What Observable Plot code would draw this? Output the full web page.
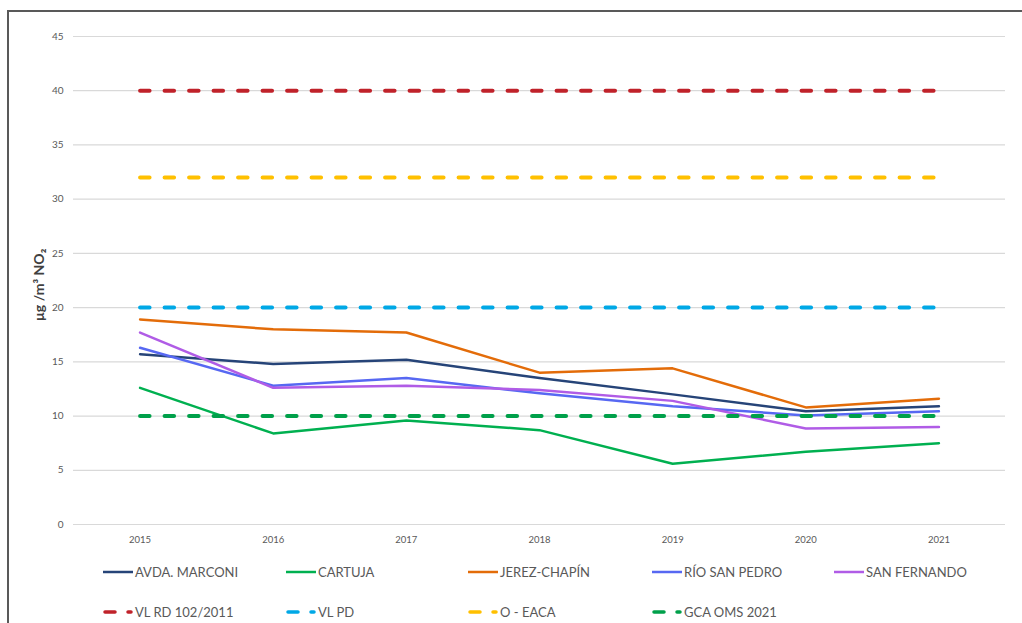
<!DOCTYPE html>
<html>
<head>
<meta charset="utf-8">
<script src="https://cdn.jsdelivr.net/npm/d3@7"></script>
<script src="https://cdn.jsdelivr.net/npm/@observablehq/plot@0.6"></script>
<style>
  html, body { margin: 0; padding: 0; background: #fff; }
  #wrap { position: relative; width: 1022px; height: 623px; overflow: hidden; font-family: Lato, "Open Sans", sans-serif; }
  #frame { position: absolute; left: 7px; top: 10px; width: 1030px; height: 640px; border-left: 2px solid #595959; border-top: 2px solid #595959; box-sizing: border-box; pointer-events: none; }
  #chart { position: absolute; left: 0; top: 0; }
  #ylab { position: absolute; left: 38px; top: 285px; transform: translate(-50%, -50%) rotate(-90deg); font-weight: bold; font-size: 14px; color: #404040; white-space: nowrap; }
  .leg { position: absolute; display: flex; align-items: center; font-size: 13px; color: #595959; white-space: nowrap; }
  .leg svg { display: block; margin-right: 2px; }
</style>
</head>
<body>
<div id="wrap">
  <div id="chart"></div>
  <div id="ylab"></div>
  <div id="frame"></div>
</div>
<script>
const years = [2015, 2016, 2017, 2018, 2019, 2020, 2021];
const yTicks = [0, 5, 10, 15, 20, 25, 30, 35, 40, 45];

const stations = ["AVDA. MARCONI", "CARTUJA", "JEREZ-CHAPÍN", "RÍO SAN PEDRO", "SAN FERNANDO"];
const stationColors = ["#264478", "#00b050", "#e36c09", "#5768f2", "#b05ce6"];
const avdaMarconi  = [15.7, 14.8, 15.2, 13.5, 12.0, 10.45, 10.9];
const cartuja      = [12.6, 8.4, 9.6, 8.7, 5.6, 6.7, 7.5];
const jerezChapin  = [18.9, 18.0, 17.7, 14.0, 14.4, 10.8, 11.6];
const rioSanPedro  = [16.3, 12.8, 13.5, 12.1, 10.9, 10.05, 10.45];
const sanFernando  = [17.7, 12.6, 12.8, 12.4, 11.4, 8.85, 9.0];
const stationValues = [avdaMarconi, cartuja, jerezChapin, rioSanPedro, sanFernando];

const limits = ["VL RD 102/2011", "VL PD", "O - EACA", "GCA OMS 2021"];
const limitValues = [40, 20, 32, 10];
const limitColors = ["#c0222a", "#00a8e6", "#ffc000", "#00a04a"];

const yLabel = "µg /m³ NO₂";
document.getElementById("ylab").textContent = yLabel;

const seriesData = stations.flatMap((s, i) => years.map((yr, j) => ({station: s, year: yr, value: stationValues[i][j]})));
const limitData = limits.flatMap((l, i) => years.map(yr => ({limit: l, year: yr, value: limitValues[i]})));

const dash = "9.5,15";

const plot = Plot.plot({
  width: 1022,
  height: 555,
  marginTop: 36,
  marginBottom: 31,
  marginLeft: 73,
  marginRight: 17,
  style: {fontFamily: "Lato, 'Open Sans', sans-serif", background: "transparent"},
  x: {domain: [2014.5, 2021.5], axis: null},
  y: {domain: [0, 45], axis: null},
  color: {domain: [...stations, ...limits], range: [...stationColors, ...limitColors]},
  marks: [
    Plot.ruleY(yTicks, {stroke: "#d9d9d9", strokeWidth: 1.2}),
    Plot.axisY(yTicks, {tickSize: 0, tickPadding: 10, fontSize: 10, fill: "#595959", label: null, tickFormat: d => d}),
    Plot.axisX(years, {tickSize: 0, tickPadding: 12, fontSize: 9.5, fill: "#595959", label: null, tickFormat: d => String(d)}),
    Plot.line(seriesData, {x: "year", y: "value", z: "station", stroke: "station", strokeWidth: 2.5}),
    Plot.line(limitData, {x: "year", y: "value", z: "limit", stroke: "limit", strokeWidth: 4, strokeDasharray: dash, strokeLinecap: "round"})
  ]
});
document.getElementById("chart").appendChild(plot);

const wrap = document.getElementById("wrap");
function addLegend(label, color, dashed, x, y) {
  const d = document.createElement("div");
  d.className = "leg";
  d.style.left = x + "px";
  d.style.top = (y - 10) + "px";
  d.style.height = "20px";
  const ns = "http://www.w3.org/2000/svg";
  const svg = document.createElementNS(ns, "svg");
  svg.setAttribute("width", 30);
  svg.setAttribute("height", 8);
  const ln = document.createElementNS(ns, "line");
  ln.setAttribute("x1", dashed ? 2 : 0);
  ln.setAttribute("x2", dashed ? 28 : 30);
  ln.setAttribute("y1", 4);
  ln.setAttribute("y2", 4);
  ln.setAttribute("stroke", color);
  ln.setAttribute("stroke-width", dashed ? 3.5 : 2.5);
  if (dashed) { ln.setAttribute("stroke-dasharray", "10,13"); ln.setAttribute("stroke-linecap", "round"); }
  svg.appendChild(ln);
  d.appendChild(svg);
  const t = document.createElement("span");
  t.textContent = label;
  d.appendChild(t);
  wrap.appendChild(d);
}
const legX = [103, 286, 468, 652, 834];
stations.forEach((s, i) => addLegend(s, stationColors[i], false, legX[i], 572));
limits.forEach((l, i) => addLegend(l, limitColors[i], true, legX[i], 612));
</script>
</body>
</html>
